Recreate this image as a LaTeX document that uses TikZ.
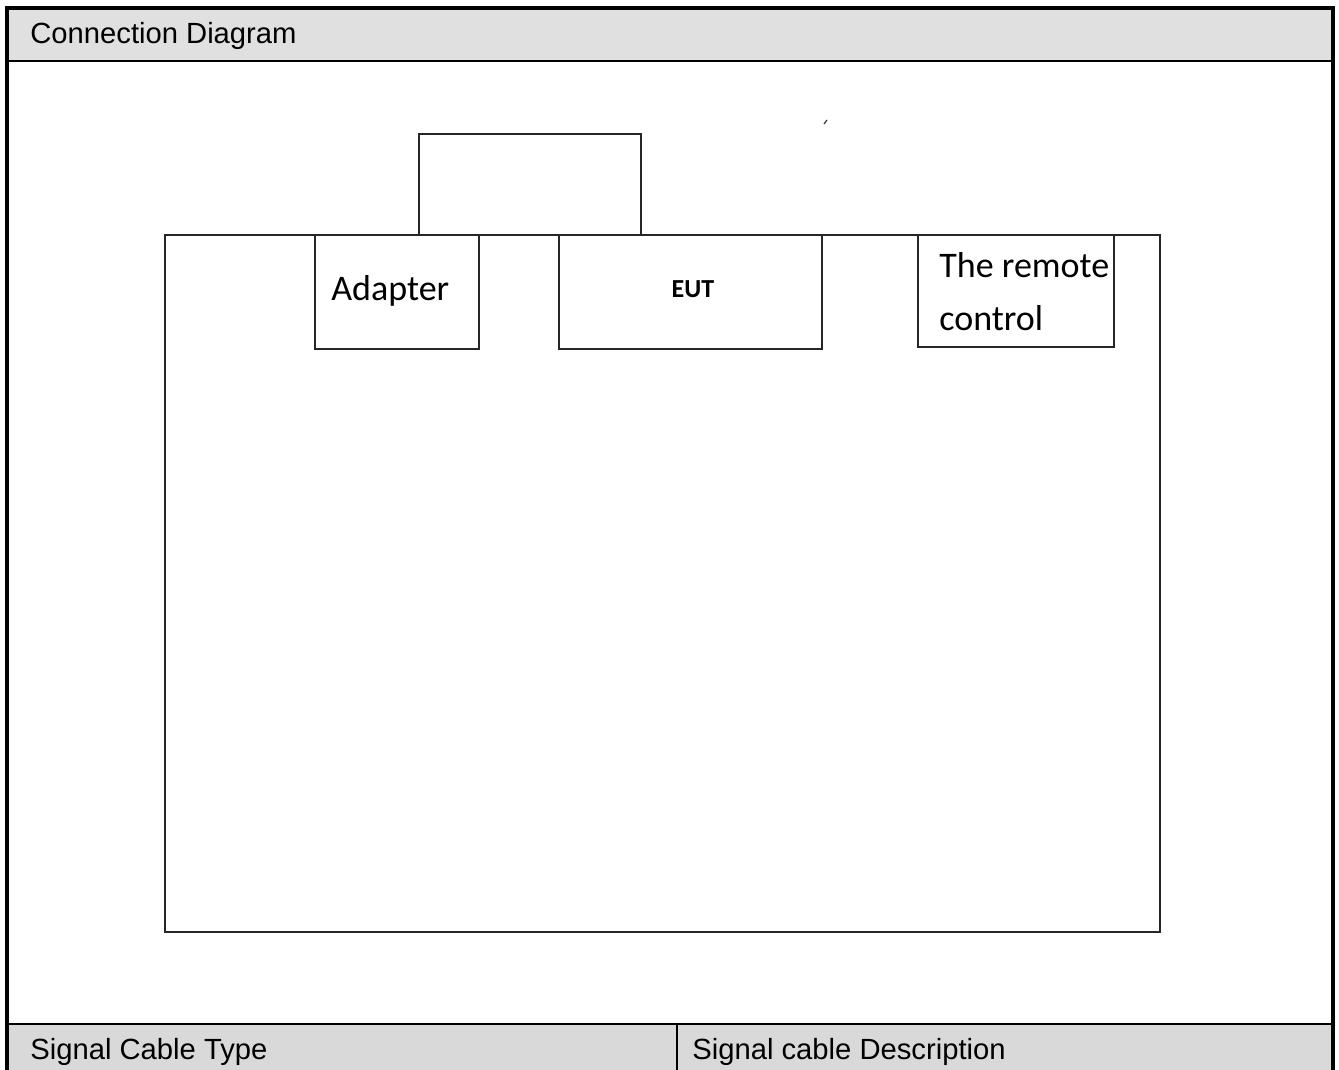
\documentclass[tikz,border=0pt]{standalone}
\usepackage{fontspec}
\setmainfont{Liberation Sans}
\newfontfamily\calfont{Carlito}
\definecolor{hdrgray}{HTML}{E0E0E0}
\definecolor{ftrgray}{HTML}{D9D9D9}
\begin{document}
\begin{tikzpicture}[x=0.5pt,y=-0.5pt,
  frame/.style={line width=1.6pt,draw=black},
  thinframe/.style={line width=0.6pt,draw=black},
  box/.style={draw=black!85,line width=1pt,rectangle,inner sep=0pt},
  celltext/.style={anchor=base west,inner sep=0pt,font=\fontsize{14.6pt}{16pt}\selectfont},
  boxtext/.style={anchor=base west,inner sep=0pt,font=\calfont\fontsize{18pt}{20pt}\selectfont}]
% canvas
\fill[white] (0,0) rectangle (1339,1070);
\useasboundingbox (0,0) rectangle (1339,1070);
% header and footer fills
\fill[hdrgray] (7,8) rectangle (1333,61);
\fill[ftrgray] (7,1024) rectangle (1333,1070);
% table frame
\coordinate (tl) at (7,8);
\coordinate (tr) at (1333,8);
\coordinate (bl) at (7,1070);
\coordinate (br) at (1333,1070);
\coordinate (hl) at (7,61);
\coordinate (hr) at (1333,61);
\coordinate (fl) at (7,1024);
\coordinate (fr) at (1333,1024);
\coordinate (dt) at (677,1024);
\coordinate (db) at (677,1070);
\draw[frame] (bl) -- (tl) -- (tr) -- (br);
\draw[line width=1.3pt] (hl) -- (hr);
\draw[line width=1.3pt] (fl) -- (fr);
\draw[thinframe] (dt) -- (db);
% texts of table
\node[celltext] (hdr) at (30,44) {Connection Diagram};
\node[celltext] (sct) at (30,1059) {Signal Cable Type};
\node[celltext] (scd) at (692,1059) {Signal cable Description};
% diagram boxes
\node[box,minimum width=497.5pt,minimum height=348.5pt] (table) at (662.5,583.5) {};
\node[box,minimum width=111pt,minimum height=50.5pt] (top) at (530,184.5) {};
\node[box,fill=white,minimum width=82pt,minimum height=57pt] (adapter) at (397,292) {};
\node[box,fill=white,minimum width=131.5pt,minimum height=57pt] (eut) at (690.5,292) {};
\node[box,fill=white,minimum width=98pt,minimum height=56pt] (remote) at (1016,291) {};
% box labels
\node[boxtext] (adtxt) at (331,300) {Adapter};
\node[anchor=base,inner sep=0pt,font=\calfont\bfseries\fontsize{13pt}{15pt}\selectfont] (euttxt) at (693,297) {EUT};
\node[boxtext] (rc1) at (939,277) {The remote};
\node[boxtext] (rc2) at (939,330) {control};
% tiny stray mark
\coordinate (m1) at (824,124);
\coordinate (m2) at (827,120);
\draw[line width=0.6pt,black!80] (m1) -- (m2);
\end{tikzpicture}
\end{document}
